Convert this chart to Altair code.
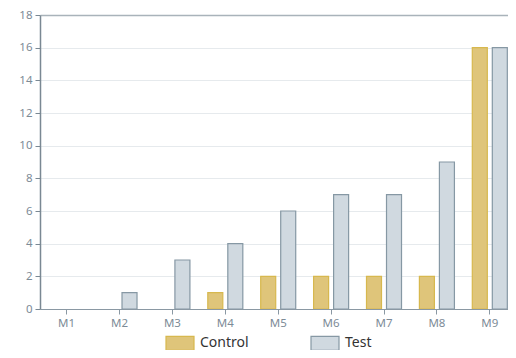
import altair as alt
import pandas as pd

months = ["M1", "M2", "M3", "M4", "M5", "M6", "M7", "M8", "M9"]
control = [0, 0, 0, 1, 2, 2, 2, 2, 16]
test = [0, 1, 3, 4, 6, 7, 7, 9, 16]
series = ["Control", "Test"]
y_ticks = [0, 2, 4, 6, 8, 10, 12, 14, 16, 18]

rows = []
for m, c, t in zip(months, control, test):
    rows.append({"month": m, "series": "Control", "value": c})
    rows.append({"month": m, "series": "Test", "value": t})
df = pd.DataFrame(rows)

FONT = "Noto Sans"
AX = "#7d8b97"

chart = alt.Chart(df).transform_filter(alt.datum.value > 0).mark_bar(strokeWidth=1.2, clip=True).encode(
    x=alt.X("month:N", sort=months, title=None,
            scale=alt.Scale(domain=months, paddingInner=0.338, paddingOuter=0.0925, align=0.93),
            axis=alt.Axis(labelAngle=0, labelColor=AX, labelFontSize=11.5, labelFont=FONT,
                          domainColor="#8a98a3", tickColor="#8a98a3", tickSize=5,
                          labelPadding=3, grid=False)),
    xOffset=alt.XOffset("series:N", scale=alt.Scale(domain=series, paddingInner=0.25, paddingOuter=0)),
    y=alt.Y("value:Q", title=None,
            scale=alt.Scale(domain=[0, 18], nice=False),
            axis=alt.Axis(values=y_ticks, labelColor=AX, labelFontSize=11.5, labelFont=FONT,
                          domainColor="#7a8893", tickColor="#7a8893", tickSize=5,
                          labelPadding=3, domainWidth=1.5,
                          gridColor={"condition": {"test": "datum.value === 18", "value": "#a9b3ba"},
                                     "value": "#e6eaed"},
                          gridWidth={"condition": {"test": "datum.value === 18", "value": 1.5},
                                     "value": 1})),
    color=alt.Color("series:N", title=None,
                    scale=alt.Scale(domain=series, range=["#dfc57a", "#d0d9e0"]),
                    legend=alt.Legend(orient="none", legendX=125, legendY=313, direction="horizontal",
                                      symbolType="M-1,-0.5H1V0.5H-1Z", symbolSize=784,
                                      symbolStrokeWidth=1.2, labelFontSize=14, labelFont=FONT,
                                      labelColor="#333333", columnPadding=59, labelOffset=5)),
    stroke=alt.Stroke("series:N", scale=alt.Scale(domain=series, range=["#d7b84e", "#8698a4"]),
                      legend=None),
).properties(
    width=468, height=294,
    autosize=alt.AutoSizeParams(type="none"),
    padding={"top": 7, "left": 32, "right": 0, "bottom": 41},
).configure_view(stroke=None)

chart.save("out.html", embed_options={"renderer": "svg", "actions": False})
